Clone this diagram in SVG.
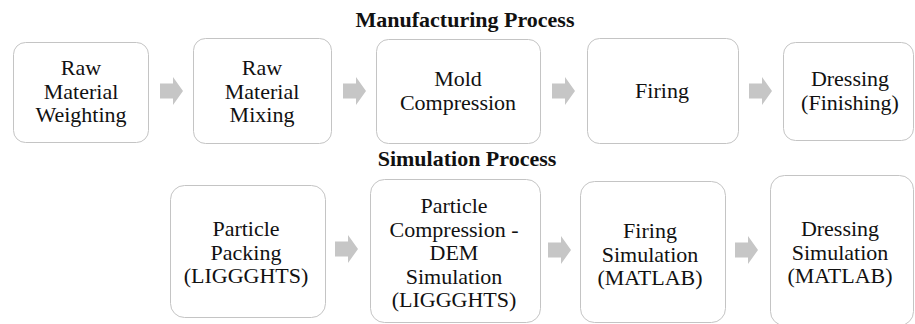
<svg xmlns="http://www.w3.org/2000/svg" width="915" height="324" viewBox="0 0 915 324">
<style>
.box{fill:#ffffff;stroke:#c4c4c4;stroke-width:1}
.arr{fill:#c6c6c6}
</style>
<defs>
<path id="ar" d="M0,-7.5 H13 V-14 L23,0 L13,14 V7.5 H0 Z"/>
</defs>
<rect width="915" height="324" fill="#ffffff"/>
<g font-family="Liberation Serif, serif" font-size="22" font-weight="bold" fill="#111111" text-anchor="middle">
<text x="465" y="27">Manufacturing Process</text>
<text x="467" y="166">Simulation Process</text>
</g>
<g id="connectors">
<use href="#ar" class="arr" x="160" y="91"/>
<use href="#ar" class="arr" x="343" y="91"/>
<use href="#ar" class="arr" x="552" y="91"/>
<use href="#ar" class="arr" x="749" y="91"/>
<use href="#ar" class="arr" x="335" y="249"/>
<use href="#ar" class="arr" x="548" y="250"/>
<use href="#ar" class="arr" x="735" y="250"/>
</g>
<g font-family="Liberation Serif, serif" font-size="22" fill="#111111" text-anchor="middle">
<g id="m1"><rect class="box" x="13.5" y="42.5" width="135" height="100" rx="12"/>
<text x="81" y="75">Raw</text><text x="81" y="98.5">Material</text><text x="81" y="122">Weighting</text></g>
<g id="m2"><rect class="box" x="193.5" y="38.5" width="138" height="105" rx="12"/>
<text x="262" y="75">Raw</text><text x="262" y="98.5">Material</text><text x="262" y="122">Mixing</text></g>
<g id="m3"><rect class="box" x="376.5" y="39.5" width="164" height="104" rx="12"/>
<text x="458" y="86">Mold</text><text x="458" y="110">Compression</text></g>
<g id="m4"><rect class="box" x="587.5" y="38.5" width="151" height="105" rx="12"/>
<text x="662" y="98">Firing</text></g>
<g id="m5"><rect class="box" x="783.5" y="42.5" width="130" height="98" rx="12"/>
<text x="850" y="86">Dressing</text><text x="850" y="110">(Finishing)</text></g>
<g id="s1"><rect class="box" x="170.5" y="185.5" width="155" height="132" rx="14"/>
<text x="246" y="236">Particle</text><text x="246" y="259.5">Packing</text><text x="246" y="283">(LIGGGHTS)</text></g>
<g id="s2"><rect class="box" x="370.5" y="179.5" width="170" height="143" rx="14"/>
<text x="454" y="213">Particle</text><text x="454" y="236.5">Compression -</text><text x="454" y="260">DEM</text><text x="454" y="283.5">Simulation</text><text x="454" y="307">(LIGGGHTS)</text></g>
<g id="s3"><rect class="box" x="580.5" y="181.5" width="145" height="141" rx="14"/>
<text x="650" y="238">Firing</text><text x="650" y="261.5">Simulation</text><text x="650" y="285">(MATLAB)</text></g>
<g id="s4"><rect class="box" x="770.5" y="175.5" width="143" height="150" rx="14"/>
<text x="840" y="236">Dressing</text><text x="840" y="259.5">Simulation</text><text x="840" y="283">(MATLAB)</text></g>
</g>
</svg>
